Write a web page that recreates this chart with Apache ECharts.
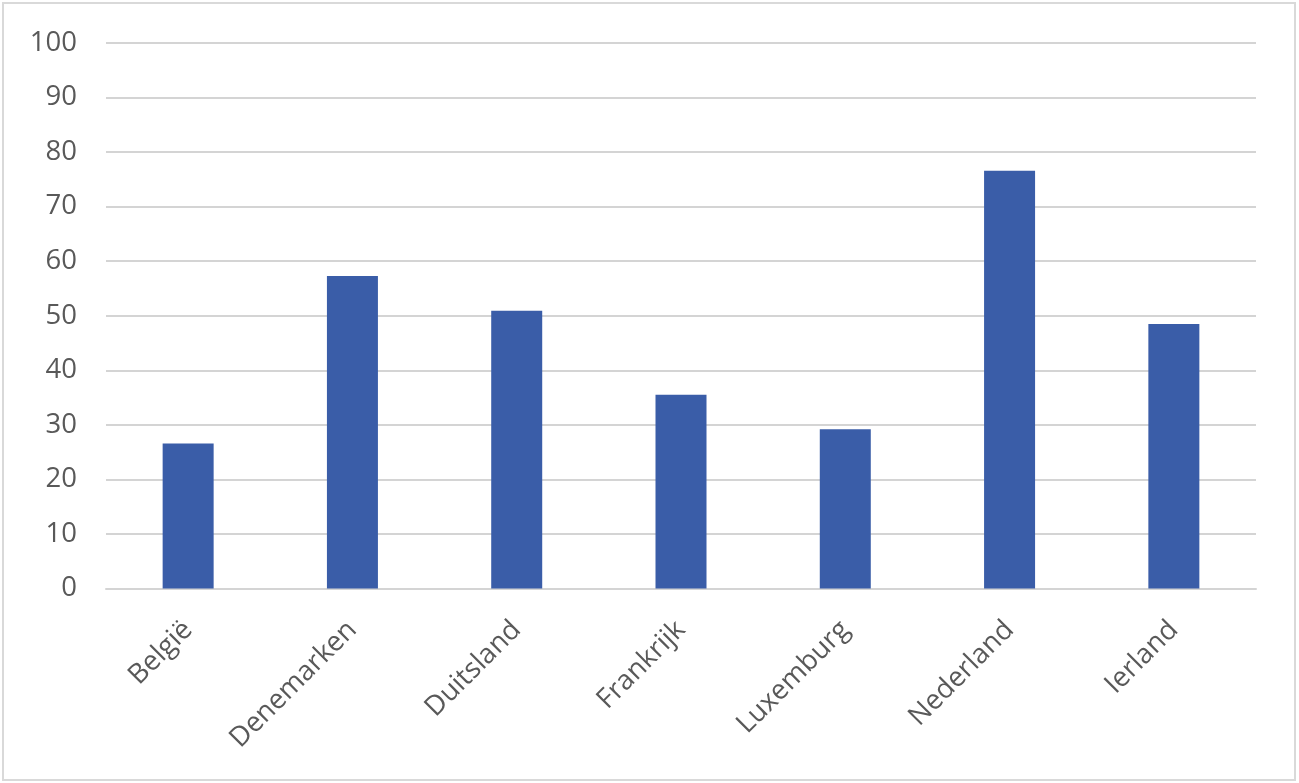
<!DOCTYPE html>
<html>
<head>
<meta charset="utf-8">
<script src="https://cdn.jsdelivr.net/npm/echarts@6/dist/echarts.min.js"></script>
<style>
html,body{margin:0;padding:0;background:#fff;}
#chart{width:1299px;height:783px;}
</style>
</head>
<body>
<div id="chart"></div>
<script>
const categories = ['België', 'Denemarken', 'Duitsland', 'Frankrijk', 'Luxemburg', 'Nederland', 'Ierland'];
const values = [26.6, 57.3, 50.9, 35.5, 29.2, 76.6, 48.5];
const yTicks = { min: 0, max: 100, interval: 10 };

const chart = echarts.init(document.getElementById('chart'));
const textColor = '#595959';
const font = '"Open Sans", "Noto Sans", sans-serif';
chart.setOption({
  animation: false,
  graphic: [{
    type: 'rect',
    shape: { x: 3, y: 3, width: 1292, height: 777 },
    style: { fill: 'none', stroke: '#d9d9d9', lineWidth: 2 },
    silent: true
  }],
  grid: { left: 106, right: 43, top: 43, bottom: 194.5, containLabel: false },
  xAxis: {
    type: 'category',
    data: categories,
    axisLine: { show: true, lineStyle: { color: '#d4d4d4', width: 2 } },
    axisTick: { show: false },
    axisLabel: { rotate: 45, margin: 37, color: textColor, fontSize: 27.5, fontFamily: font, interval: 0 }
  },
  yAxis: {
    type: 'value',
    min: yTicks.min, max: yTicks.max, interval: yTicks.interval,
    axisLine: { show: false },
    axisTick: { show: false },
    splitLine: { lineStyle: { color: '#d4d4d4', width: 2 } },
    axisLabel: { margin: 29, color: textColor, fontSize: 27.5, fontFamily: font }
  },
  series: [{
    type: 'bar',
    data: values,
    barWidth: 51,
    itemStyle: { color: '#3A5DA8' }
  }]
});
</script>
</body>
</html>
